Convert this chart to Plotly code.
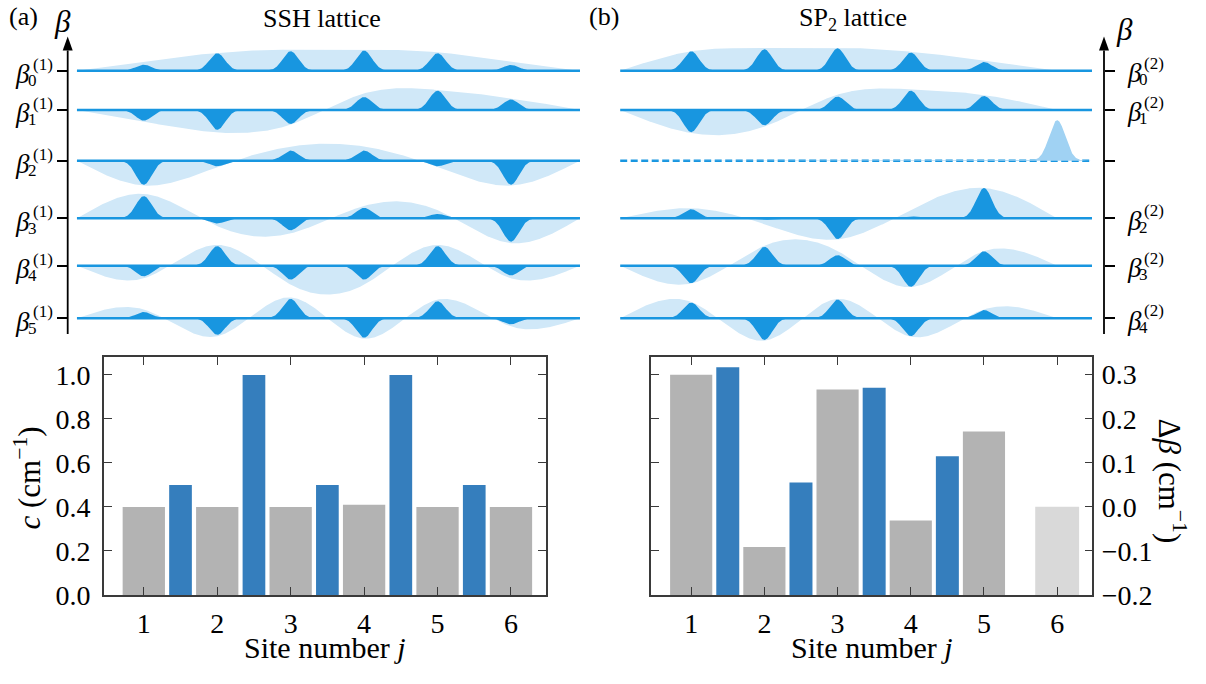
import numpy as np
import plotly.graph_objects as go

W, H = 1206, 684

# ---------------- data ----------------
sites = [1, 2, 3, 4, 5, 6]
bonds = [1.5, 2.5, 3.5, 4.5, 5.5]
site_ticks = ["1", "2", "3", "4", "5", "6"]

# SSH lattice: on-site row (gray) and couplings (blue), c in cm^-1
ssh_site_c = [0.40, 0.40, 0.40, 0.41, 0.40, 0.40]
ssh_bond_c = [0.50, 1.00, 0.50, 1.00, 0.50]

# SP2 lattice: detunings (gray), couplings (blue), decoupled site 6 (light)
sp2_site_db = [0.300, -0.091, 0.266, -0.031, 0.171]
sp2_bond_c = [0.317, 0.055, 0.270, 0.115]
sp2_free_db = [0.0]
db_floor = -0.2

# propagation-constant levels (vertical offsets of the mode rows)
beta_levels = [26.95, 22.94, 17.75, 11.85, 7.00, 1.62]

# SSH modes: amplitude at each waveguide and smooth envelope at each waveguide
ssh_amp = [
    [0.63, 1.80, 2.00, 2.07, 1.80, 0.60],
    [-1.10, -2.03, -1.43, 1.33, 1.97, 1.07],
    [-2.47, -0.57, 1.03, 1.03, -0.57, -2.47],
    [2.27, -0.53, -1.23, 1.07, 0.45, -2.40],
    [-1.10, 2.00, -1.43, -1.43, 2.00, -1.00],
    [0.63, -1.70, 1.97, -2.00, 1.73, -0.63],
]
ssh_env = [
    [0.95, 1.85, 2.18, 2.18, 1.90, 0.90],
    [-1.20, -2.30, -1.50, 1.70, 2.05, 1.20],
    [-2.55, -0.65, 1.45, 1.45, -0.65, -2.55],
    [2.50, -0.80, -1.55, 1.27, 0.83, -2.55],
    [-1.30, 2.13, -1.95, -1.95, 2.13, -1.30],
    [0.90, -1.85, 2.13, -2.10, 1.90, -0.85],
]

# SP2 modes (rows 0,1,3,4,5); row 2 is the state localised on site 6
sp2_rows = [0, 1, 3, 4, 5]
sp2_amp = [
    [2.00, 2.20, 2.30, 1.87, 0.90, 0.0],
    [-2.27, -1.57, 1.37, 1.97, 1.43, 0.0],
    [0.93, -0.15, -2.13, 0.20, 3.10, 0.0],
    [-1.80, 1.93, 1.07, -2.17, 1.47, 0.0],
    [1.60, -2.23, 1.90, -1.83, 0.83, 0.0],
]
sp2_env = [
    [2.00, 2.33, 2.37, 1.95, 1.05, 0.0],
    [-2.37, -1.70, 1.57, 2.13, 1.53, 0.0],
    [1.03, -0.60, -2.17, 0.90, 3.10, 0.0],
    [-1.83, 2.05, 1.50, -2.20, 1.50, 0.0],
    [1.67, -2.30, 1.97, -1.90, 0.90, 0.0],
]
sp2_free_row = 2
sp2_free_amp = 4.15

ssh_labels = ["0", "1", "2", "3", "4", "5"]
sp2_labels = ["0", "1", None, "2", "3", "4"]

# ---------------- style ----------------
BLUE = "rgb(24,150,224)"
ENV = "rgb(208,232,248)"
BUMP = "rgb(160,210,243)"
BAR_BLUE = "rgb(53,126,189)"
BAR_GRAY = "rgb(179,179,179)"
BAR_LIGHT = "rgb(217,217,217)"
FONT = "Liberation Serif"
AX = "#3a3a3a"
SIGMA = 0.108


def px_x(p):
    return p / W


def px_y(p):
    return 1 - p / H


def spline(xk, yk, x):
    xk = np.asarray(xk, float)
    yk = np.asarray(yk, float)
    n = len(xk)
    h = np.diff(xk)
    A = np.zeros((n, n))
    r = np.zeros(n)
    A[0, 0] = A[-1, -1] = 1.0
    for i in range(1, n - 1):
        A[i, i - 1] = h[i - 1]
        A[i, i] = 2 * (h[i - 1] + h[i])
        A[i, i + 1] = h[i]
        r[i] = 3 * ((yk[i + 1] - yk[i]) / h[i] - (yk[i] - yk[i - 1]) / h[i - 1])
    c = np.linalg.solve(A, r)
    b = (yk[1:] - yk[:-1]) / h - h * (2 * c[:-1] + c[1:]) / 3
    d = (c[1:] - c[:-1]) / (3 * h)
    i = np.clip(np.searchsorted(xk, x) - 1, 0, n - 2)
    dx = x - xk[i]
    return yk[i] + b[i] * dx + c[i] * dx ** 2 + d[i] * dx ** 3


def peaks(amps, x, sigma=SIGMA):
    y = np.zeros_like(x)
    for s, a in zip(sites, amps):
        y += a * np.exp(-((x - s) ** 2) / (2 * sigma ** 2))
    return y


def band(fig, x, y, level, color, xa, ya):
    xs = np.concatenate([x, x[::-1]])
    ys = np.concatenate([level + y, np.full(len(x), level)])
    fig.add_trace(go.Scatter(x=xs, y=ys, mode="lines", fill="toself",
                             fillcolor=color, line=dict(width=0),
                             hoverinfo="skip", showlegend=False,
                             xaxis=xa, yaxis=ya))


def baseline(fig, x0, x1, level, xa, ya, dash="solid"):
    fig.add_trace(go.Scatter(x=[x0, x1], y=[level, level], mode="lines",
                             line=dict(color=BLUE, width=2.5, dash=dash),
                             hoverinfo="skip", showlegend=False,
                             xaxis=xa, yaxis=ya))


fig = go.Figure()

# ---- SSH mode profiles ----
ssh_x0, ssh_x1 = 0.09, 6.94
xs_ssh = np.linspace(ssh_x0, ssh_x1, 1400)
for k, lev in enumerate(beta_levels):
    env = spline([ssh_x0] + sites + [ssh_x1], [0] + ssh_env[k] + [0], xs_ssh)
    band(fig, xs_ssh, env, lev, ENV, "x", "y")
    band(fig, xs_ssh, peaks(ssh_amp[k], xs_ssh), lev, BLUE, "x", "y")
    baseline(fig, ssh_x0, ssh_x1, lev, "x", "y")

# ---- SP2 mode profiles ----
sp2_x0, sp2_x1 = 0.03, 6.475
xs_sp2 = np.linspace(sp2_x0, sp2_x1, 1400)
xs_env = np.linspace(sp2_x0, 6.0, 1200)
for k, row in enumerate(sp2_rows):
    lev = beta_levels[row]
    env = spline([sp2_x0] + sites[:5] + [6.0], [0] + sp2_env[k][:5] + [0], xs_env)
    band(fig, xs_env, env, lev, ENV, "x2", "y2")
    band(fig, xs_sp2, peaks(sp2_amp[k], xs_sp2), lev, BLUE, "x2", "y2")
    baseline(fig, sp2_x0, sp2_x1, lev, "x2", "y2")

lev = beta_levels[sp2_free_row]
baseline(fig, sp2_x0, sp2_x1, lev, "x2", "y2", dash="7px,3.5px")
free = [0, 0, 0, 0, 0, sp2_free_amp]
band(fig, xs_sp2, peaks(free, xs_sp2, 0.11), lev, BUMP, "x2", "y2")

# ---- bar charts ----
fig.add_trace(go.Bar(x=sites, y=ssh_site_c, width=0.576, marker_color=BAR_GRAY,
                     marker_line_width=0, showlegend=False, xaxis="x3", yaxis="y3"))
fig.add_trace(go.Bar(x=bonds, y=ssh_bond_c, width=0.309, marker_color=BAR_BLUE,
                     marker_line_width=0, showlegend=False, xaxis="x3", yaxis="y3"))

fig.add_trace(go.Bar(x=sites[:5], y=[v - db_floor for v in sp2_site_db], base=db_floor,
                     width=0.576, marker_color=BAR_GRAY, marker_line_width=0,
                     showlegend=False, xaxis="x4", yaxis="y4"))
fig.add_trace(go.Bar(x=bonds[:4], y=[v - db_floor for v in sp2_bond_c], base=db_floor,
                     width=0.314, marker_color=BAR_BLUE, marker_line_width=0,
                     showlegend=False, xaxis="x4", yaxis="y4"))
fig.add_trace(go.Bar(x=sites[5:], y=[v - db_floor for v in sp2_free_db], base=db_floor,
                     width=0.6, marker_color=BAR_LIGHT, marker_line_width=0,
                     showlegend=False, xaxis="x4", yaxis="y4"))

# ---------------- axes ----------------
top_dom = [px_y(352), px_y(37.3)]
top_range = [-1.0, 30.47]
hidden_x = dict(visible=False, showgrid=False, zeroline=False)
level_axis = dict(domain=top_dom, range=top_range, tickvals=beta_levels,
                  showticklabels=False, ticks="outside", ticklen=10, tickwidth=1.6,
                  tickcolor="black", showline=False, showgrid=False, zeroline=False)

tickfont = dict(family=FONT, size=28, color="black")
box = dict(showline=True, linecolor=AX, linewidth=1.6, mirror="ticks",
           ticks="inside", ticklen=8, tickwidth=1.4, tickcolor=AX,
           showgrid=False, zeroline=False, tickfont=tickfont)

bar_dom = [px_y(609.2), px_y(366)]

fig.update_layout(
    width=W, height=H, margin=dict(l=0, r=0, t=0, b=0),
    paper_bgcolor="white", plot_bgcolor="rgba(0,0,0,0)",
    barmode="overlay", showlegend=False,
    xaxis=dict(domain=[px_x(67.7), px_x(584.4)], range=[-0.036, 7.0], **hidden_x),
    yaxis=dict(anchor="x", **level_axis),
    xaxis2=dict(domain=[px_x(618), px_x(1104)], range=[0, 6.639], **hidden_x),
    yaxis2=dict(anchor="x2", side="right", **level_axis),
    xaxis3=dict(domain=[px_x(104), px_x(546)], range=[0.458, 6.477], anchor="y3",
                tickvals=sites, ticktext=site_ticks, ticklabelstandoff=3, **box),
    yaxis3=dict(domain=bar_dom, range=[0, 1.0795], anchor="x3",
                tickvals=[0, 0.2, 0.4, 0.6, 0.8, 1.0], tickformat=".1f",
                ticklabelstandoff=6, **box),
    xaxis4=dict(domain=[px_x(650.7), px_x(1092.3)], range=[0.447, 6.48], anchor="y4",
                tickvals=sites, ticktext=site_ticks, ticklabelstandoff=3, **box),
    yaxis4=dict(domain=bar_dom, range=[-0.2, 0.339], anchor="x4", side="right",
                tickvals=[-0.2, -0.1, 0.0, 0.1, 0.2, 0.3], tickformat=".1f",
                ticklabelstandoff=2, **box),
)

# ---------------- level axes with arrows ----------------
shapes = []
for ax_px, ya in [(67.7, "y"), (1104, "y2")]:
    shapes.append(dict(type="line", xref="paper", yref=ya,
                       x0=px_x(ax_px), x1=px_x(ax_px), y0=0.0, y1=29.03,
                       line=dict(color="black", width=1.8)))
    tip = px_y(37.3)
    base_y = px_y(51.7)
    hw = 5.0
    path = (f"M {px_x(ax_px - hw)} {base_y} L {px_x(ax_px)} {tip} "
            f"L {px_x(ax_px + hw)} {base_y} Z")
    shapes.append(dict(type="path", xref="paper", yref="paper", path=path,
                       fillcolor="black", line=dict(width=0)))
fig.update_layout(shapes=shapes)

ann = []


def text(x, y, s, size, xanchor="center", yanchor="middle", angle=0, xref="paper",
         yref="paper", yshift=0):
    ann.append(dict(x=x, y=y, text=s, showarrow=False, xref=xref, yref=yref,
                    xanchor=xanchor, yanchor=yanchor, textangle=angle, yshift=yshift,
                    borderpad=0,
                    font=dict(family=FONT, size=size, color="black")))


text(px_x(8), px_y(17), "(a)", 26, xanchor="left")
text(px_x(588), px_y(17), "(b)", 26, xanchor="left")
text(px_x(322), px_y(19), "SSH lattice", 26)
text(px_x(853), px_y(19), "SP<sub>2</sub> lattice", 26)
text(px_x(62), px_y(22), "<i>β</i>", 31)
text(px_x(1124), px_y(30), "<i>β</i>", 31)

# level labels  β_n^(1), β_n^(2)
for lev, sub in zip(beta_levels, ssh_labels):
    text(px_x(22.5), lev, "<i>β</i>", 27, yref="y", yshift=-3.5)
    text(px_x(42.5), lev, "(1)", 17, yref="y", yshift=6.5)
    text(px_x(32), lev, sub, 17, yref="y", yshift=-10)
for lev, sub in zip(beta_levels, sp2_labels):
    if sub is None:
        continue
    text(px_x(1134), lev, "<i>β</i>", 27, yref="y2", yshift=-2.5)
    text(px_x(1154), lev, "(2)", 17, yref="y2", yshift=7.5)
    text(px_x(1143), lev, sub, 17, yref="y2", yshift=-9)

# axis titles
text(px_x(28), px_y(489), "<i>c</i> (cm<sup>−1</sup>)", 31, angle=-90)
text(px_x(1172), px_y(492), "Δ<i>β</i> (cm<sup>−1</sup>)", 31, angle=90)
text(px_x(325), px_y(663), "Site number <i>j</i>", 30)
text(px_x(871.5), px_y(663), "Site number <i>j</i>", 30)

fig.update_layout(annotations=ann)

fig.write_html("out.html")
